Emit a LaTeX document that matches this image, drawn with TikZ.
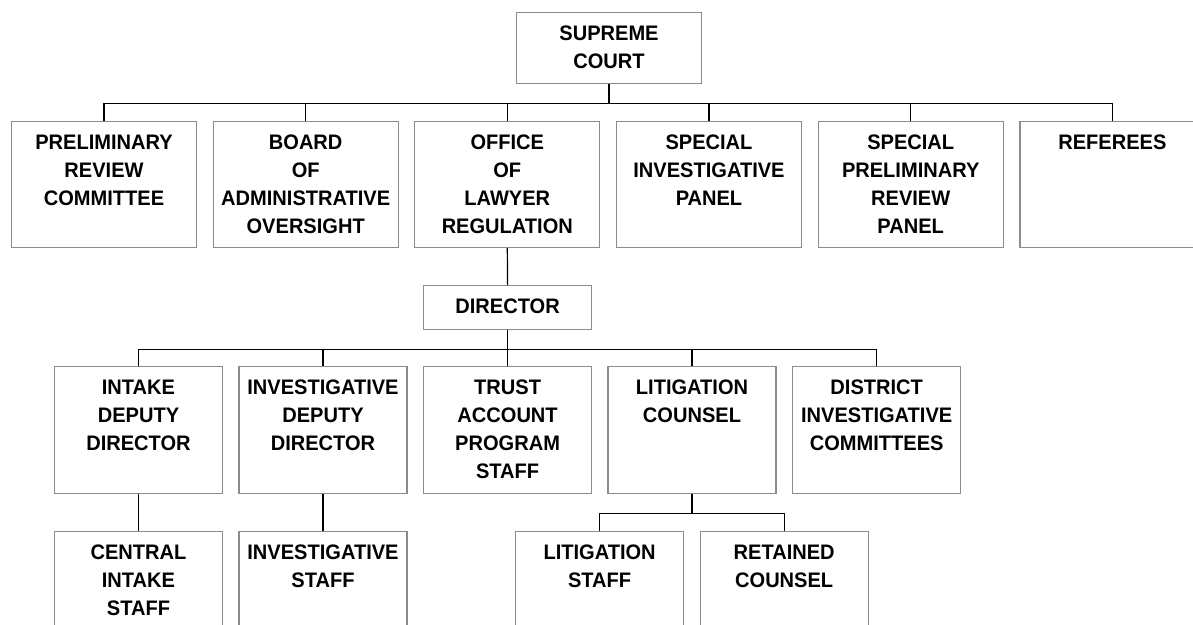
\documentclass[tikz,border=0pt]{standalone}
\usepackage{fontspec}
\newfontfamily\orgfont{Liberation Sans}[FakeStretch=0.955]
\definecolor{boxgray}{HTML}{8C8C8C}
\begin{document}
\begin{tikzpicture}[x=1pt,y=-1pt,
  box/.style={draw=boxgray, line width=1.2pt, inner sep=0pt, anchor=north, fill=white},
  wide/.style={box, minimum width=185pt, minimum height=126pt},
  narrow/.style={box, minimum width=168pt, minimum height=127pt},
  txt/.style={anchor=north, align=center, inner sep=0pt, text=black,
    font=\orgfont\bfseries\fontsize{21}{28}\selectfont},
  conn/.style={draw=black, line width=1.2pt},
  elbow/.style={to path={-- ++(0,19) -| (\tikztotarget)}}]
\useasboundingbox (0,0) rectangle (1193,624);
\clip (0,0) rectangle (1193,624);
% boxes
\node[box, minimum width=185pt, minimum height=71pt] (sc) at (609,12) {};
\node[wide] (p1) at (104,121) {};
\node[wide] (p2) at (305.7,121) {};
\node[wide] (p3) at (507.3,121) {};
\node[wide] (p4) at (709,121) {};
\node[wide] (p5) at (910.7,121) {};
\node[wide] (p6) at (1112.4,121) {};
\node[box, minimum width=168pt, minimum height=44pt] (dir) at (507.6,285) {};
\node[narrow] (d1) at (138.5,366) {};
\node[narrow] (d2) at (323,366) {};
\node[narrow] (d3) at (507.6,366) {};
\node[narrow] (d4) at (692,366) {};
\node[narrow] (d5) at (876.7,366) {};
\node[narrow] (s1) at (138.5,530.5) {};
\node[narrow] (s2) at (323,530.5) {};
\node[narrow] (s3) at (599.6,530.5) {};
\node[narrow] (s4) at (784.2,530.5) {};
% texts
\node[txt] (tsc) at ([yshift=-13.5pt]sc.north) {SUPREME\\COURT};
\node[txt] (tp1) at ([yshift=-14pt]p1.north) {PRELIMINARY\\REVIEW\\COMMITTEE};
\node[txt] (tp2) at ([yshift=-14pt]p2.north) {BOARD\\OF\\ADMINISTRATIVE\\OVERSIGHT};
\node[txt] (tp3) at ([yshift=-14pt]p3.north) {OFFICE\\OF\\LAWYER\\REGULATION};
\node[txt] (tp4) at ([yshift=-14pt]p4.north) {SPECIAL\\INVESTIGATIVE\\PANEL};
\node[txt] (tp5) at ([yshift=-14pt]p5.north) {SPECIAL\\PRELIMINARY\\REVIEW\\PANEL};
\node[txt] (tp6) at ([yshift=-14pt]p6.north) {REFEREES};
\node[txt] (tdir) at ([yshift=-13.5pt]dir.north) {DIRECTOR};
\node[txt] (td1) at ([yshift=-14pt]d1.north) {INTAKE\\DEPUTY\\DIRECTOR};
\node[txt] (td2) at ([yshift=-14pt]d2.north) {INVESTIGATIVE\\DEPUTY\\DIRECTOR};
\node[txt] (td3) at ([yshift=-14pt]d3.north) {TRUST\\ACCOUNT\\PROGRAM\\STAFF};
\node[txt] (td4) at ([yshift=-14pt]d4.north) {LITIGATION\\COUNSEL};
\node[txt] (td5) at ([yshift=-14pt]d5.north) {DISTRICT\\INVESTIGATIVE\\COMMITTEES};
\node[txt] (ts1) at ([yshift=-14pt]s1.north) {CENTRAL\\INTAKE\\STAFF};
\node[txt] (ts2) at ([yshift=-14pt]s2.north) {INVESTIGATIVE\\STAFF};
\node[txt] (ts3) at ([yshift=-14pt]s3.north) {LITIGATION\\STAFF};
\node[txt] (ts4) at ([yshift=-14pt]s4.north) {RETAINED\\COUNSEL};
% connectors
\foreach \t in {p1,p2,p3,p4,p5,p6}
  \draw[conn] (sc.south) to[elbow] (\t.north);
\draw[conn] (p3.south) -- (dir.north);
\foreach \t in {d1,d2,d3,d4,d5}
  \draw[conn] (dir.south) to[elbow] (\t.north);
\draw[conn] (d1.south) -- (s1.north);
\draw[conn] (d2.south) -- (s2.north);
\draw[conn] (d4.south) to[elbow] (s3.north);
\draw[conn] (d4.south) to[elbow] (s4.north);
\end{tikzpicture}
\end{document}
